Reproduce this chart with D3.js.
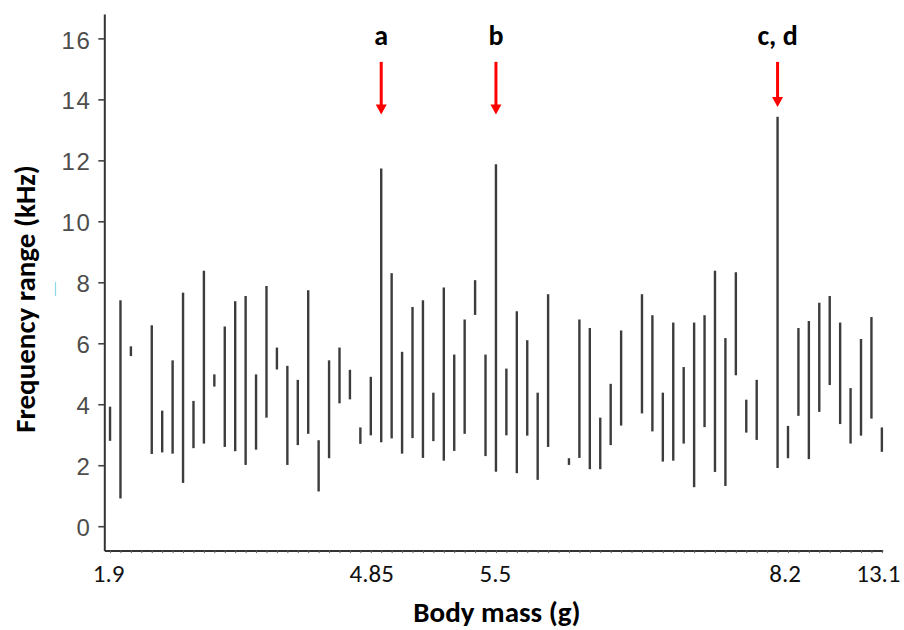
<!DOCTYPE html>
<html>
<head>
<meta charset="utf-8">
<script src="https://cdn.jsdelivr.net/npm/d3@7/dist/d3.min.js"></script>
<style>
  html, body { margin: 0; padding: 0; background: #fff; }
  svg { display: block; }
</style>
</head>
<body>
<div id="chart"></div>
<script>
// ---- data (one entry per species, ordered by body mass) ----
const lowKHz = [2.80, 0.91, 5.58, null, 2.37, 2.42, 2.38, 1.42, 2.56, 2.71,
                4.58, 2.60, 2.46, 2.01, 2.51, 3.56, 5.14, 2.01, 2.66, 3.03,
                1.14, 2.23, 4.03, 4.16, 2.70, 2.98, 2.75, 2.88, 2.38, 2.89,
                2.24, 2.79, 2.15, 2.47, 3.03, 6.93, 2.30, 1.79, 2.98, 1.74,
                2.97, 1.52, 2.60, null, 2.01, 2.24, 1.87, 1.87, 2.66, 3.30,
                null, 3.70, 3.11, 2.12, 2.15, 2.71, 1.28, 3.25, 1.78, 1.32,
                4.95, 3.07, 2.83, null, 1.91, 2.23, 3.62, 2.20, 3.75, 4.63,
                3.35, 2.71, 2.97, 3.53, 2.44];
const highKHz = [3.92, 7.41, 5.90, null, 6.59, 3.79, 5.44, 7.66, 4.11, 8.38,
                 4.98, 6.55, 7.38, 7.55, 4.98, 7.88, 5.86, 5.26, 4.80, 7.74,
                 2.82, 5.44, 5.86, 5.13, 3.24, 4.90, 11.73, 8.30, 5.72, 7.19,
                 7.41, 4.38, 7.83, 5.63, 6.78, 8.07, 5.63, 11.87, 5.17, 7.05,
                 6.10, 4.38, 7.61, null, 2.23, 6.78, 6.50, 3.56, 4.67, 6.42,
                 null, 7.61, 6.92, 4.38, 6.68, 5.22, 6.68, 6.92, 8.38, 6.17,
                 8.33, 4.15, 4.80, null, 13.43, 3.29, 6.50, 6.73, 7.33, 7.55,
                 6.68, 4.53, 6.14, 6.86, 3.24];
const speciesIndex = d3.range(lowKHz.length);

// body-mass tick labels and the species they sit under
const massTickIndex = [0, 26, 37, 64, 74];
const massTickLabels = ["1.9", "4.85", "5.5", "8.2", "13.1"];

// frequency axis ticks
const freqTicks = [0, 2, 4, 6, 8, 10, 12, 14, 16];

// highlighted species
const highlightIndex = [26, 37, 64];
const highlightLabels = ["a", "b", "c, d"];
const arrowTipKHz = [13.5, 13.5, 13.75];

// ---- drawing ----
const W = 904, H = 630;
const FONT = "Carlito, Calibri, 'Liberation Sans', Arial, sans-serif";
const svg = d3.select("#chart").append("svg").attr("width", W).attr("height", H);

const x = d3.scaleLinear().domain([-0.55, 74.08]).range([104.3, 882.7]);
const y = d3.scaleLinear().domain([-0.8, 16.8]).range([550.6, 14]);

// y axis
const yAxis = svg.append("g")
  .attr("transform", `translate(${x(-0.55)},0)`)
  .call(d3.axisLeft(y).tickValues(freqTicks).tickSize(6).tickSizeOuter(0).tickPadding(7));
yAxis.select(".domain").attr("stroke", "#333").attr("stroke-width", 2);
yAxis.selectAll(".tick line").attr("stroke", "#444").attr("stroke-width", 1.6);
yAxis.selectAll(".tick text")
  .attr("fill", "#4d4d4d")
  .attr("font-family", "'Liberation Sans', Arial, sans-serif")
  .attr("font-size", 24)
  .attr("letter-spacing", 1.5)
  .attr("dy", "0.40em");

// x axis (minor ticks at every species)
const xAxis = svg.append("g")
  .attr("transform", `translate(0,${y(-0.8)})`)
  .call(d3.axisBottom(x).tickValues(speciesIndex).tickSize(2.5).tickSizeOuter(0).tickFormat(""));
xAxis.select(".domain").attr("stroke", "#333").attr("stroke-width", 2);
xAxis.selectAll(".tick line").attr("stroke", "#666").attr("stroke-width", 1);

// x tick labels
const labelNudge = [-2, -10, -1, 7, -4];
const xLab = svg.append("g")
  .attr("transform", `translate(0,${y(-0.8)})`)
  .call(d3.axisBottom(x).tickValues(massTickIndex).tickSize(0).tickPadding(14)
        .tickFormat((d, i) => massTickLabels[i]));
xLab.select(".domain").remove();
xLab.selectAll(".tick text")
  .attr("fill", "#111")
  .attr("font-family", FONT)
  .attr("font-size", 25)
  .attr("dx", (d, i) => labelNudge[i]);

// range bars
const bars = speciesIndex.filter(i => lowKHz[i] != null && highKHz[i] != null);
svg.append("g").selectAll("line").data(bars).join("line")
  .attr("x1", i => x(i)).attr("x2", i => x(i))
  .attr("y1", i => y(lowKHz[i])).attr("y2", i => y(highKHz[i]))
  .attr("stroke", "#3c3c3c")
  .attr("stroke-width", 2.4);

// axis titles
svg.append("text")
  .attr("x", 497).attr("y", 622)
  .attr("text-anchor", "middle")
  .attr("font-family", FONT)
  .attr("font-weight", "bold")
  .attr("font-size", 29)
  .attr("fill", "#000")
  .text("Body mass (g)");

svg.append("text")
  .attr("transform", "translate(35,299) rotate(-90)")
  .attr("text-anchor", "middle")
  .attr("font-family", FONT)
  .attr("font-weight", "bold")
  .attr("font-size", 29)
  .attr("fill", "#000")
  .text("Frequency range (kHz)");

// small cyan mark at the left edge
svg.append("line")
  .attr("x1", 55.5).attr("x2", 55.5).attr("y1", 282).attr("y2", 296)
  .attr("stroke", "#8fd8ea").attr("stroke-width", 1.2);

// annotation arrows
const ann = svg.append("g");
highlightIndex.forEach((idx, k) => {
  const cx = x(idx);
  const tip = y(arrowTipKHz[k]);
  const top = y(15.23);
  ann.append("line")
    .attr("x1", cx).attr("x2", cx).attr("y1", top).attr("y2", tip - 9)
    .attr("stroke", "#ff0000").attr("stroke-width", 3);
  ann.append("path")
    .attr("d", `M${cx - 5.5},${tip - 10} L${cx + 5.5},${tip - 10} L${cx},${tip} Z`)
    .attr("fill", "#ff0000");
  ann.append("text")
    .attr("x", cx).attr("y", y(15.78))
    .attr("text-anchor", "middle")
    .attr("font-family", FONT)
    .attr("font-weight", "bold")
    .attr("font-size", 28)
    .attr("fill", "#000")
    .text(highlightLabels[k]);
});
</script>
</body>
</html>
